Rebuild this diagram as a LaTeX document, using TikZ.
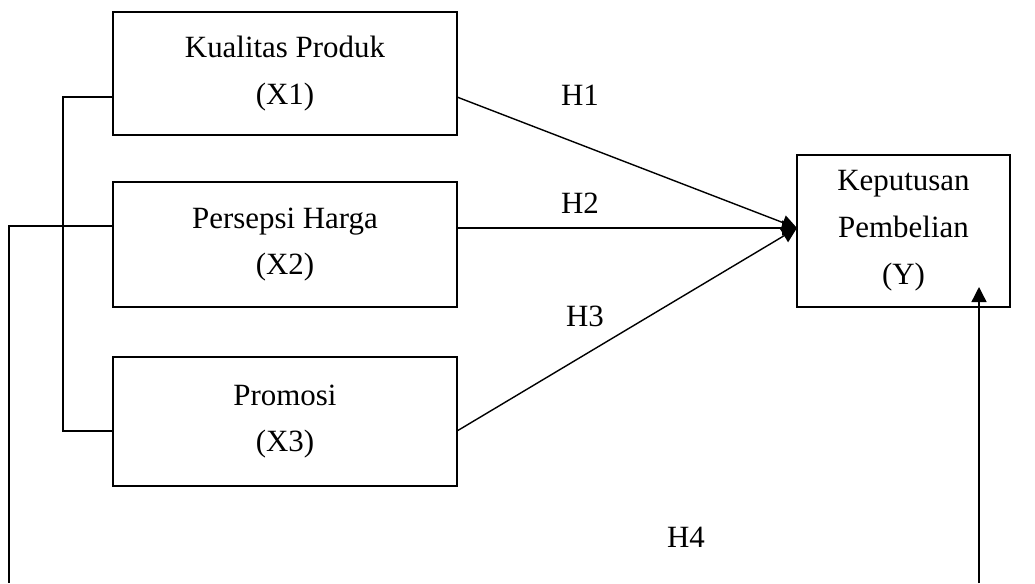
\documentclass[tikz,border=0pt]{standalone}
\usepackage{fontspec}
\setmainfont{Liberation Serif}
\usepackage{tikz}
\usetikzlibrary{arrows.meta}
\tikzset{varbox/.style={draw,line width=0.8pt,minimum width=6.88cm,align=center,
  font=\fontsize{17.6}{26.7}\selectfont},
  hlabel/.style={font=\fontsize{17.6}{26.7}\selectfont},
  link/.style={line width=0.8pt},
  arr/.style={line width=0.8pt,-{Triangle[length=0.3cm,width=0.3cm]}}}

\begin{document}
\begin{tikzpicture}[x=0.02cm,y=-0.02cm]
\useasboundingbox (0,0) rectangle (1035,583);
% variabel bebas
\node[varbox,minimum height=2.46cm] (x1) at (285,73.5) {Kualitas Produk\\(X1)};
\node[varbox,minimum height=2.5cm] (x2) at (285,244.5) {Persepsi Harga\\(X2)};
\node[varbox,minimum height=2.58cm] (x3) at (285,421.5) {Promosi\\(X3)};
% variabel terikat
\node[varbox,minimum width=4.26cm,minimum height=3.04cm] (y) at (903.5,231) {Keputusan\\Pembelian\\(Y)};
% titik bantu
\coordinate (x1r) at (457,97);
\coordinate (x1l) at (113,97);
\coordinate (x2l) at (113,226);
\coordinate (x3r) at (457,431);
\coordinate (x3l) at (113,431);
\coordinate (tip) at (797,228);
\coordinate (kiri) at (9,583);
\coordinate (kanan) at (979,583);
\coordinate (ytip) at (979,287);
% kurung kiri
\draw[link] (x1l) -- (63,97) -- (63,431) -- (x3l);
\draw[link] (x2l) -- (kiri |- x2l) -- (kiri);
% panah
\draw[arr] (x1r) -- (tip);
\draw[arr] (x2.east |- tip) -- (tip);
\draw[arr] (x3r) -- (tip);
\draw[arr] (kanan) -- (ytip);
% label
\node[hlabel] (h1) at (580,95) {H1};
\node[hlabel] (h2) at (580,203) {H2};
\node[hlabel] (h3) at (585,316) {H3};
\node[hlabel] (h4) at (686,537) {H4};
\end{tikzpicture}
\end{document}
